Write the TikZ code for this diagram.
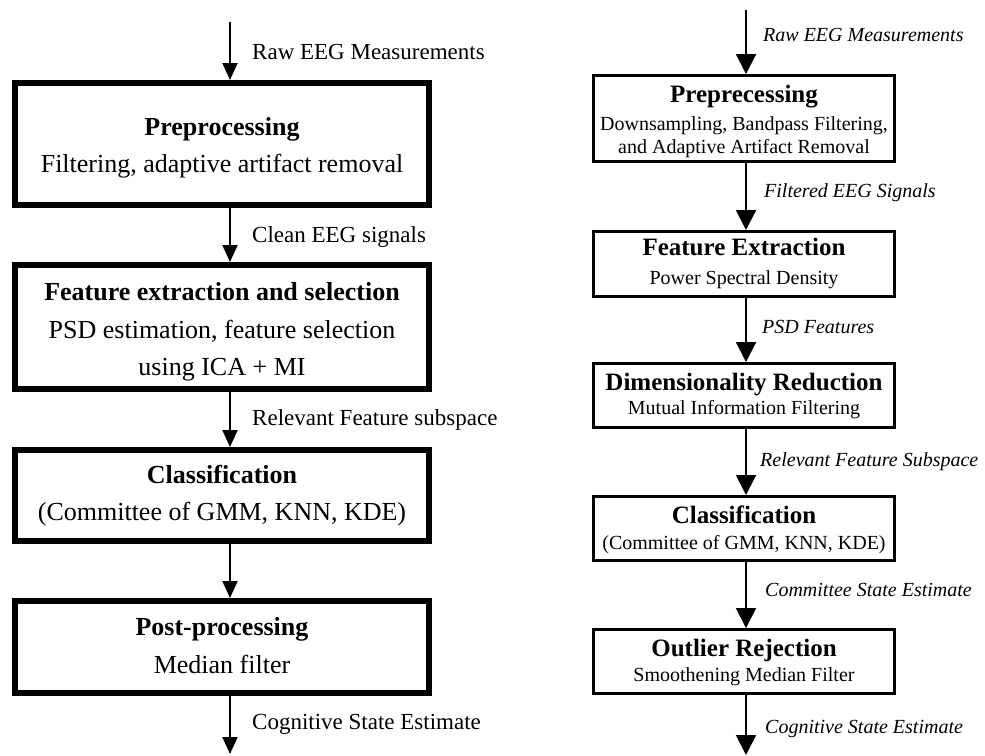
\documentclass[tikz,border=0pt]{standalone}
\usepackage{fontspec}
\setmainfont{Liberation Serif}
\usetikzlibrary{arrows.meta}

\tikzset{
  lbox/.style={draw, line width=6pt, minimum width=414pt, inner sep=0pt},
  rbox/.style={draw, line width=3pt, minimum width=301pt, inner sep=0pt},
  ltitle/.style={inner sep=0pt, anchor=base, font=\fontsize{26}{30}\selectfont\bfseries},
  ltext/.style={inner sep=0pt, anchor=base, font=\fontsize{26}{30}\selectfont},
  llab/.style={inner sep=0pt, anchor=base west, font=\fontsize{23}{28}\selectfont},
  rtitle/.style={inner sep=0pt, anchor=base, font=\fontsize{25}{30}\selectfont\bfseries},
  rtext/.style={inner sep=0pt, anchor=base, font=\fontsize{20}{24}\selectfont},
  rlab/.style={inner sep=0pt, anchor=base west, font=\fontsize{20}{24}\selectfont\itshape},
  larrow/.style={line width=2pt, -{Triangle[length=17pt,width=15pt]}},
  rarrow/.style={line width=2pt, -{Triangle[length=20pt,width=20pt]}},
}

\begin{document}
\begin{tikzpicture}[x=1pt, y=-1pt]
\useasboundingbox (0,0) rectangle (985,755);

% ---------- left pipeline ----------
\coordinate (la) at (230,0);
\coordinate (lin) at (230,22);
\coordinate (lout) at (230,754);

\node[lbox, minimum height=122pt] (b1) at (222,144) {};
\node[lbox, minimum height=124pt] (b2) at (222,327) {};
\node[lbox, minimum height=91pt]  (b3) at (222,495.5) {};
\node[lbox, minimum height=92pt]  (b4) at (222,647) {};

\node[ltitle] (b1t) at (222,135) {Preprocessing};
\node[ltext]  (b1s) at (222,172) {Filtering, adaptive artifact removal};

\node[ltitle] (b2t) at (222,300) {Feature extraction and selection};
\node[ltext]  (b2s) at (222,338) {PSD estimation, feature selection};
\node[ltext]  (b2u) at (222,375) {using ICA + MI};

\node[ltitle] (b3t) at (222,483) {Classification};
\node[ltext]  (b3s) at (222,520) {(Committee of GMM, KNN, KDE)};

\node[ltitle] (b4t) at (222,635) {Post-processing};
\node[ltext]  (b4s) at (222,673) {Median filter};

\draw[larrow] (lin) -- (b1.north -| la);
\draw[larrow] (b1.south -| la) -- (b2.north -| la);
\draw[larrow] (b2.south -| la) -- (b3.north -| la);
\draw[larrow] (b3.south -| la) -- (b4.north -| la);
\draw[larrow] (b4.south -| la) -- (lout);

\node[llab] (l1) at (252,59)  {Raw EEG Measurements};
\node[llab] (l2) at (252,242) {Clean EEG signals};
\node[llab] (l3) at (252,425) {Relevant Feature subspace};
\node[llab] (l4) at (252,729) {Cognitive State Estimate};

% ---------- right pipeline ----------
\coordinate (ra) at (746,0);
\coordinate (rin) at (746,10);
\coordinate (rout) at (746,755);

\node[rbox, minimum height=86pt] (r1) at (744,118.5) {};
\node[rbox, minimum height=65pt] (r2) at (744,264) {};
\node[rbox, minimum height=64pt] (r3) at (744,395.5) {};
\node[rbox, minimum height=64pt] (r4) at (744,528.5) {};
\node[rbox, minimum height=64pt] (r5) at (744,661.5) {};

\node[rtitle] (r1t) at (744,102) {Preprecessing};
\node[rtext]  (r1s) at (744,130) {Downsampling, Bandpass Filtering,};
\node[rtext]  (r1u) at (744,153) {and Adaptive Artifact Removal};

\node[rtitle] (r2t) at (744,255) {Feature Extraction};
\node[rtext]  (r2s) at (744,284) {Power Spectral Density};

\node[rtitle] (r3t) at (744,390) {Dimensionality Reduction};
\node[rtext]  (r3s) at (744,414) {Mutual Information Filtering};

\node[rtitle] (r4t) at (744,523) {Classification};
\node[rtext]  (r4s) at (744,549) {(Committee of GMM, KNN, KDE)};

\node[rtitle] (r5t) at (744,656) {Outlier Rejection};
\node[rtext]  (r5s) at (744,681) {Smoothening Median Filter};

\draw[rarrow] (rin) -- (r1.north -| ra);
\draw[rarrow] (r1.south -| ra) -- (r2.north -| ra);
\draw[rarrow] (r2.south -| ra) -- (r3.north -| ra);
\draw[rarrow] (r3.south -| ra) -- (r4.north -| ra);
\draw[rarrow] (r4.south -| ra) -- (r5.north -| ra);
\draw[rarrow] (r5.south -| ra) -- (rout);

\node[rlab] (q1) at (763,41)  {Raw EEG Measurements};
\node[rlab] (q2) at (764,197) {Filtered EEG Signals};
\node[rlab] (q3) at (762,333) {PSD Features};
\node[rlab] (q4) at (760,466) {Relevant Feature Subspace};
\node[rlab] (q5) at (765,596) {Committee State Estimate};
\node[rlab] (q6) at (765,733) {Cognitive State Estimate};
\end{tikzpicture}
\end{document}
